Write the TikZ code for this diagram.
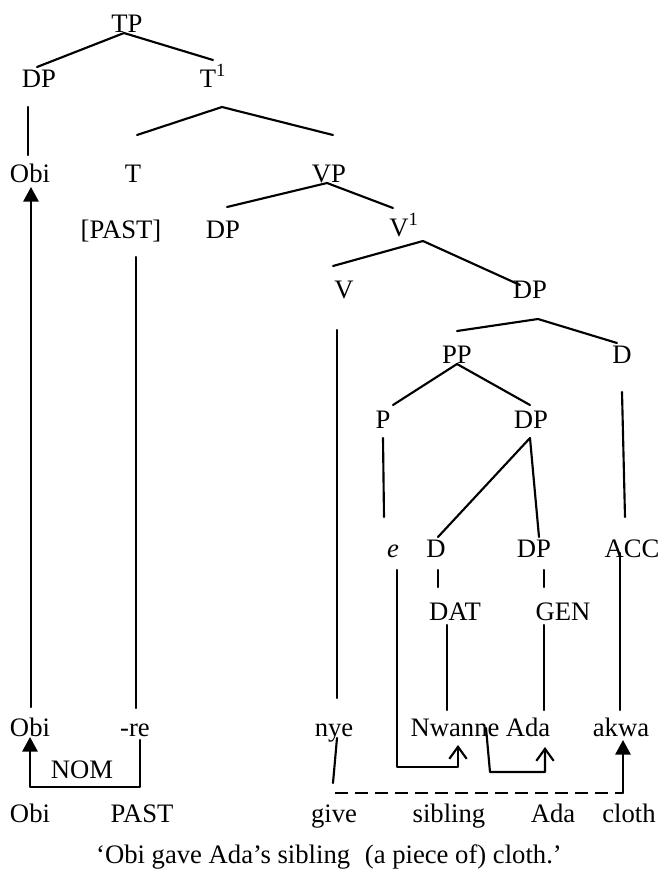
\documentclass[tikz,border=0pt]{standalone}
\usepackage{fontspec}
\setmainfont{Liberation Serif}
\usetikzlibrary{arrows.meta}

\tikzset{
  lbl/.style={anchor=base, inner sep=0pt, font=\fontsize{20}{24}\selectfont},
  branch/.style={line width=1.6pt, line cap=round, line join=round},
  solidhead/.style={branch, -{Triangle[length=11pt,width=11.5pt]}},
  barbhead/.style={branch, -{Straight Barb[length=9pt,width=13pt,line width=1.6pt]}},
  dashline/.style={line width=1.6pt, dash pattern=on 10pt off 5pt}
}

\begin{document}
\begin{tikzpicture}[x=0.75pt, y=-0.75pt]
\useasboundingbox (0,0) rectangle (658,869);

% ---------- tree labels ----------
\node[lbl] (tp)     at (127,32)  {TP};
\node[lbl] (dp1)    at (39,87)   {DP};
\node[lbl] (tbar)   at (213,87)  {T\textsuperscript{1}};
\node[lbl] (obi1)   at (30,182)  {Obi};
\node[lbl] (t)      at (133,182) {T};
\node[lbl] (vp)     at (329,182) {VP};
\node[lbl] (past1)  at (121,238) {[PAST]};
\node[lbl] (dp2)    at (223,238) {DP};
\node[lbl] (vbar)   at (404,236) {V\textsuperscript{1}};
\node[lbl] (v)      at (344,298) {V};
\node[lbl] (dp3)    at (530,298) {DP};
\node[lbl] (pp)     at (457,363) {PP};
\node[lbl] (d1)     at (622,363) {D};
\node[lbl] (p)      at (383,428) {P};
\node[lbl] (dp4)    at (531,428) {DP};
\node[lbl] (e)      at (393,557) {\itshape e};
\node[lbl] (d2)     at (436,557) {D};
\node[lbl] (dp5)    at (534,557) {DP};
\node[lbl] (acc)    at (632,557) {ACC};
\node[lbl] (dat)    at (455,620) {DAT};
\node[lbl] (gen)    at (563,620) {GEN};

% ---------- Igbo words ----------
\node[lbl] (obi2)   at (30,736)  {Obi};
\node[lbl] (re)     at (135,736) {-re};
\node[lbl] (nye)    at (334,736) {nye};
\node[lbl] (nwanne) at (455,736) {Nwanne};
\node[lbl] (ada1)   at (528,736) {Ada};
\node[lbl] (akwa)   at (621,736) {akwa};
\node[lbl] (nom)    at (82,778)  {NOM};

% ---------- gloss and translation ----------
\node[lbl] (obi3)    at (30,822)  {Obi};
\node[lbl] (past2)   at (142,822) {PAST};
\node[lbl] (give)    at (334,822) {give};
\node[lbl] (sibling) at (449,822) {sibling};
\node[lbl] (ada2)    at (553,822) {Ada};
\node[lbl] (cloth)   at (629,822) {cloth};
\node[lbl] (trans)   at (329,863) {‘Obi gave Ada’s sibling\hspace{0.3em} (a piece of) cloth.’};

% ---------- branch end points ----------
\coordinate (tp-s)    at (124,33);
\coordinate (dp1-n)   at (37,67);
\coordinate (tbar-n)  at (213,60);
\coordinate (dp1-s)   at (28,107);
\coordinate (obi1-n)  at (28,155);
\coordinate (tbar-s)  at (222,107);
\coordinate (t-n)     at (137,135);
\coordinate (vp-n)    at (333,135);
\coordinate (vp-s)    at (327,183);
\coordinate (dp2-n)   at (227,207);
\coordinate (vbar-n)  at (393,208);
\coordinate (vbar-s)  at (423,241);
\coordinate (v-n)     at (333,266);
\coordinate (dp3-n)   at (520,285);
\coordinate (v-s)     at (337,330);
\coordinate (nye-n)   at (337,698);
\coordinate (dp3-s)   at (538,319);
\coordinate (pp-n)    at (457,331);
\coordinate (d1-n)    at (617,343);
\coordinate (pp-s)    at (457,364);
\coordinate (p-n)     at (393,405);
\coordinate (dp4-n)   at (530,405);
\coordinate (p-s)     at (383,438);
\coordinate (e-n)     at (384,517);
\coordinate (d1-s)    at (622,392);
\coordinate (acc-n)   at (625,517);
\coordinate (dp4-s)   at (530,438);
\coordinate (d2-n)    at (438,537);
\coordinate (dp5-n)   at (539,537);
\coordinate (d2-s)    at (438,570);
\coordinate (dat-n)   at (438,587);
\coordinate (dp5-s)   at (544,570);
\coordinate (gen-n)   at (544,587);
\coordinate (dat-s)   at (447,625);
\coordinate (nwanne-n) at (447,710);
\coordinate (gen-s)   at (544,625);
\coordinate (ada1-n)  at (544,710);
\coordinate (past1-s) at (136,257);
\coordinate (re-n)    at (136,708);
\coordinate (acc-s)   at (620,553);
\coordinate (akwa-n)  at (620,710);

% ---------- tree branches ----------
\draw[branch] (dp1-n) -- (tp-s) -- (tbar-n);
\draw[branch] (dp1-s) -- (obi1-n);
\draw[branch] (t-n) -- (tbar-s) -- (vp-n);
\draw[branch] (dp2-n) -- (vp-s) -- (vbar-n);
\draw[branch] (v-n) -- (vbar-s) -- (dp3-n);
\draw[branch] (v-s) -- (nye-n);
\draw[branch] (pp-n) -- (dp3-s) -- (d1-n);
\draw[branch] (p-n) -- (pp-s) -- (dp4-n);
\draw[branch] (p-s) -- (e-n);
\draw[branch] (d1-s) -- (acc-n);
\draw[branch] (d2-n) -- (dp4-s) -- (dp5-n);
\draw[branch] (d2-s) -- (dat-n);
\draw[branch] (dp5-s) -- (gen-n);
\draw[branch] (dat-s) -- (nwanne-n);
\draw[branch] (gen-s) -- (ada1-n);
\draw[branch] (past1-s) -- (re-n);
\draw[branch] (acc-s) -- (akwa-n);

% ---------- movement and case arrows ----------
\coordinate (obi2-n)  at (31,707);
\coordinate (obi1-s)  at (31,187);
\draw[solidhead] (obi2-n) -- (obi1-s);

\coordinate (re-s)    at (140,740);
\coordinate (nom-r)   at (140,787);
\coordinate (nom-l)   at (30,787);
\coordinate (obi2-s)  at (30,737);
\draw[solidhead] (re-s) -- (nom-r) -- (nom-l) -- (obi2-s);

\coordinate (e-s)     at (397,570);
\coordinate (e-c1)    at (397,767);
\coordinate (e-c2)    at (458,767);
\coordinate (nwanne-s) at (458,745);
\draw[barbhead] (e-s) -- (e-c1) -- (e-c2) -- (nwanne-s);

\coordinate (nw-in)   at (486,728);
\coordinate (nw-c1)   at (490,772);
\coordinate (nw-c2)   at (545,772);
\coordinate (ada1-s)  at (545,747);
\draw[barbhead] (nw-in) -- (nw-c1) -- (nw-c2) -- (ada1-s);

\coordinate (nye-s)   at (337,738);
\coordinate (give-n)  at (333,783);
\draw[branch] (nye-s) -- (give-n);

\coordinate (dash-l)  at (335,793);
\coordinate (dash-r)  at (623,793);
\coordinate (akwa-s)  at (623,740);
\draw[dashline] (dash-l) -- (dash-r);
\draw[solidhead] (dash-r) -- (akwa-s);

\end{tikzpicture}
\end{document}
